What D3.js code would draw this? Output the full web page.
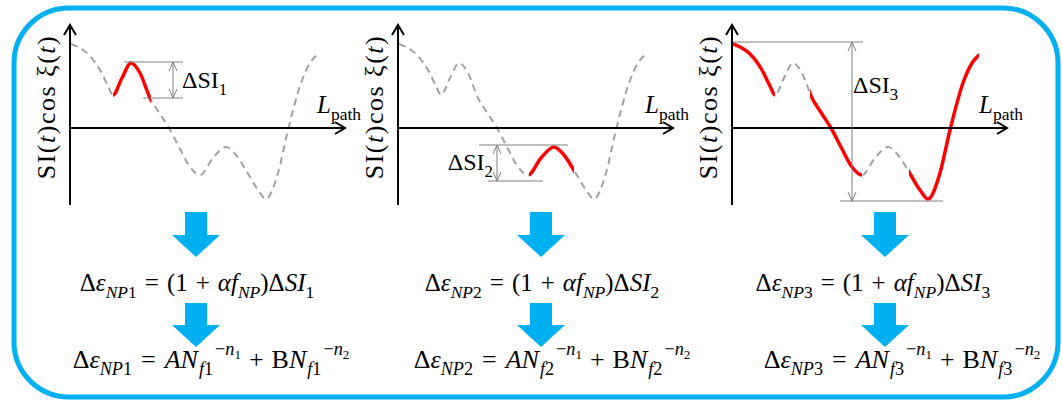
<!DOCTYPE html>
<html><head><meta charset="utf-8">
<script src="https://cdn.jsdelivr.net/npm/d3@7"></script>
<style>body{margin:0;background:#fff}svg{display:block}text{white-space:pre}</style>
</head><body><svg id="c" width="1062" height="401"></svg>
<script>
// ---- data (shared signal shape: position along path -> SI(t)cos xi(t)) ----
const pathPos = [1, 10, 18, 30, 38, 43, 52, 61, 70, 80, 90, 99, 110, 120, 130, 143, 156, 166, 177, 188, 196, 208, 218, 231, 240, 247];
const signal  = [84, 80, 74, 58, 42, 33, 50, 65, 55, 30, 14, 0, -21, -39, -47, -30, -19, -27, -44, -62, -71, -45, -2, 45, 65, 73];
// highlighted (red) ranges of path position per panel
const highlight1 = [[43, 81]];
const highlight2 = [[131, 176]];
const highlight3 = [[1, 43], [78, 130], [177, 247]];
// Delta SI extents per panel (top value, bottom value)
const dsiTop = [66, -17, 86];
const dsiBottom = [30, -53, -73];
const dsiIndex = ["1", "2", "3"];
const fIndex = ["1", "2", "3"];

// ---- layout ----
const W = 1062, H = 401;
const axisX = [70, 398, 732];
const dsiLayout = [
  {top:[54,113], bot:[73,113], ax:103, lx:112, lv:40, anchor:"start"},
  {top:[81,170], bot:[90,145], ax:99, lx:95, lv:-42, anchor:"end"},
  {top:[1,131], bot:[108,211], ax:120, lx:121, lv:35, anchor:"start"}
];
const arrowCX = [196, 541, 885];
const f1CX = [197, 542, 873], f2CX = [211, 552, 902];
const highlights = [highlight1, highlight2, highlight3];
const BLUE = "#00B0F0", RED = "#FF0000", GRAY = "#A0A0A0", SERIF = "'Liberation Serif','Times New Roman',serif";

const svg = d3.select("#c");
svg.append("rect").attr("x",14).attr("y",8).attr("width",1044).attr("height",389)
  .attr("rx",55).attr("fill","none").attr("stroke",BLUE).attr("stroke-width",5);

const y = d3.scaleLinear().domain([-80, 100]).range([208, 28]);
const pts = pathPos.map((p,i)=>[p, signal[i]]);

function rich(g, parts, size) {
  const t = g.append("text").attr("font-family", SERIF).attr("font-size", size).attr("fill","#000");
  let cur = 0;
  parts.forEach(p => {
    const [txt, fl = "", lvl = 0, dx = 0] = p;
    let off = 0, sc = 1;
    if (lvl === 1) { off = 0.28*size; sc = 0.7; }
    if (lvl === 2) { off = -0.5*size; sc = 0.7; }
    if (lvl === 3) { off = -0.33*size; sc = 0.5; }
    const ts = t.append("tspan").text(txt).attr("dy", off - cur).attr("font-size", size*sc)
      .attr("font-style", fl.includes("i") ? "italic" : "normal");
    if (dx) ts.attr("dx", dx);
    cur = off;
  });
  return t;
}
function centered(parts, size, cx, by) {
  const t = rich(svg, parts, size).attr("y", by);
  const w = t.node().getBBox().width;
  t.attr("x", cx - w/2);
  return t;
}

axisX.forEach((ax, k) => {
  const x = d3.scaleLinear().domain([0, 250]).range([ax, ax + 250]);
  const g = svg.append("g");
  const line = d3.line().x(d=>x(d[0])).y(d=>y(d[1])).curve(d3.curveMonotoneX);
  g.append("path").attr("d", line(pts)).attr("fill","none").attr("stroke",GRAY)
    .attr("stroke-width",2).attr("stroke-dasharray","7,5");
  const cid = "clip" + k;
  const cp = svg.append("clipPath").attr("id", cid);
  highlights[k].forEach(r => cp.append("rect").attr("x", x(r[0])).attr("y", 0)
    .attr("width", x(r[1]) - x(r[0])).attr("height", H));
  g.append("path").attr("d", line(pts)).attr("fill","none").attr("stroke",RED)
    .attr("stroke-width",3.5).attr("stroke-linecap","round").attr("clip-path", `url(#${cid})`);
  // axes
  const axEnd = x(275), yTop = y(103), yBot = y(-77);
  g.append("line").attr("x1", x(0)).attr("x2", x(0)).attr("y1", yBot).attr("y2", yTop)
    .attr("stroke","#000").attr("stroke-width",2);
  g.append("polyline").attr("points", `${x(0)-6},${yTop+10} ${x(0)},${yTop} ${x(0)+6},${yTop+10}`)
    .attr("fill","none").attr("stroke","#000").attr("stroke-width",2);
  g.append("line").attr("x1", x(0)).attr("x2", axEnd).attr("y1", y(0)).attr("y2", y(0))
    .attr("stroke","#000").attr("stroke-width",2);
  g.append("polyline").attr("points", `${axEnd-10},${y(0)-6} ${axEnd},${y(0)} ${axEnd-10},${y(0)+6}`)
    .attr("fill","none").attr("stroke","#000").attr("stroke-width",2);
  // axis labels
  rich(g, [["SI("],["t","i"],[")cos ξ("],["t","i"],[")"]], 26)
    .attr("text-anchor","middle").attr("letter-spacing", 1.5)
    .attr("transform", `translate(${x(0)-15},${107}) rotate(-90)`);
  rich(g, [["L","i"],["path","",1]], 25).attr("x", x(247)).attr("y", 113);
  // Delta SI annotation
  const L = dsiLayout[k];
  const yt = y(dsiTop[k]), yb = y(dsiBottom[k]);
  g.append("line").attr("x1", x(L.top[0])).attr("x2", x(L.top[1])).attr("y1", yt).attr("y2", yt)
    .attr("stroke","#808080").attr("stroke-width",1);
  g.append("line").attr("x1", x(L.bot[0])).attr("x2", x(L.bot[1])).attr("y1", yb).attr("y2", yb)
    .attr("stroke","#808080").attr("stroke-width",1);
  const axx = x(L.ax);
  g.append("line").attr("x1", axx).attr("x2", axx).attr("y1", yt).attr("y2", yb)
    .attr("stroke","#808080").attr("stroke-width",1);
  g.append("polyline").attr("points", `${axx-4},${yt+9} ${axx},${yt} ${axx+4},${yt+9}`)
    .attr("fill","none").attr("stroke","#808080").attr("stroke-width",1);
  g.append("polyline").attr("points", `${axx-4},${yb-9} ${axx},${yb} ${axx+4},${yb-9}`)
    .attr("fill","none").attr("stroke","#808080").attr("stroke-width",1);
  rich(g, [["ΔSI"],[dsiIndex[k],"",1]], 24).attr("x", x(L.lx)).attr("y", y(L.lv)).attr("text-anchor", L.anchor);

  // block arrows
  [[212,235,257],[303,325,347]].forEach(a => {
    const c = arrowCX[k];
    g.append("polygon").attr("fill", BLUE).attr("points",
      `${c-11},${a[0]} ${c+11},${a[0]} ${c+11},${a[1]} ${c+24},${a[1]} ${c},${a[2]} ${c-24},${a[1]} ${c-11},${a[1]}`);
  });
  // formulas
  const n = fIndex[k];
  centered([["Δ"],["ε","i"],["NP","i",1],[n,"",1],["=","",0,8],["(1","",0,8],["+","",0,8],["α","i",0,8],["f","i"],["NP","i",1],[")Δ"],["SI","i"],[n,"",1]], 25, f1CX[k], 291);
  centered([["Δ"],["ε","i"],["NP","i",1],[n,"",1],["=","",0,9],["A","i",0,9],["N","i"],["f","i",1,1],[n,"",1],["−","",2,2],["n","i",2],["1","",3],["+","",0,8],["B","",0,8],["N","i"],["f","i",1,1],[n,"",1],["−","",2,2],["n","i",2],["2","",3]], 26, f2CX[k], 368);
});
</script></body></html>
